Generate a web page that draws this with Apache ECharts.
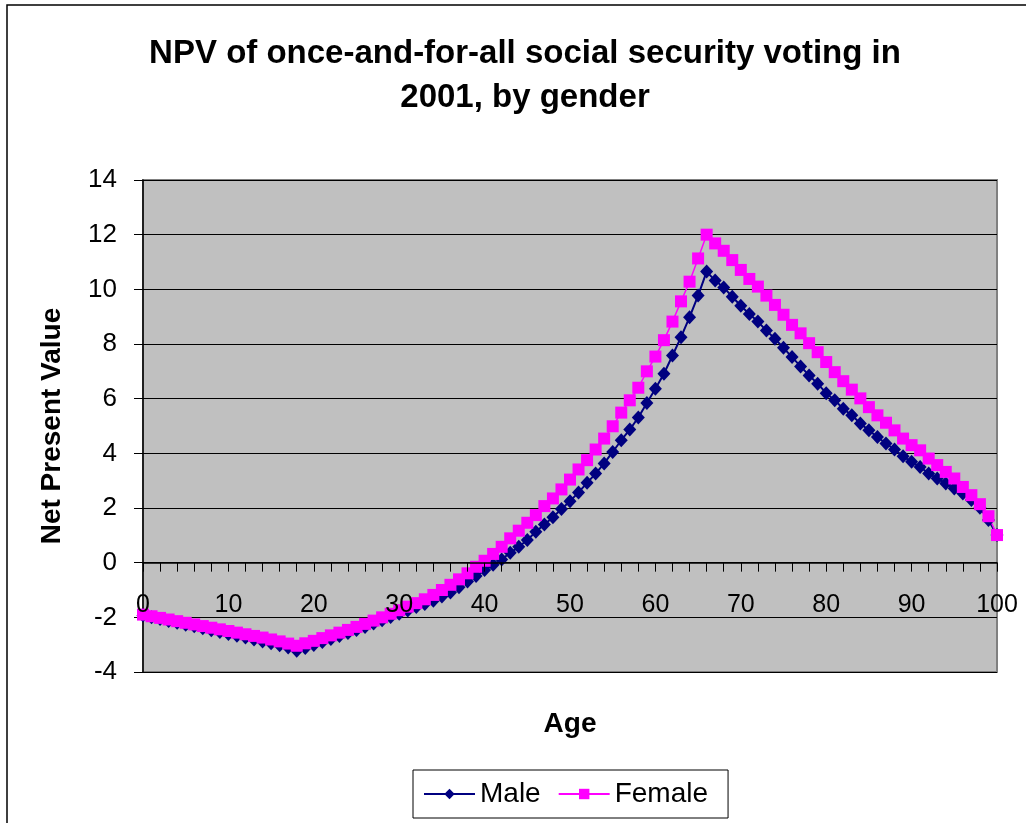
<!DOCTYPE html>
<html>
<head>
<meta charset="utf-8">
<script src="https://cdn.jsdelivr.net/npm/echarts@6/dist/echarts.min.js"></script>
<style>
html,body{margin:0;padding:0;background:#fff;}
#chart{width:1026px;height:823px;}
</style>
</head>
<body>
<div id="chart"></div>
<script>
var titleText = 'NPV of once-and-for-all social security voting in\n2001, by gender';
var xAxisName = 'Age';
var yAxisName = 'Net Present Value';
var ages = [];
for (var a = 0; a <= 100; a++) ages.push(String(a));
var yTicks = [-4, -2, 0, 2, 4, 6, 8, 10, 12, 14];

var male = [
 -1.93,-2.00,-2.06,-2.13,-2.20,-2.27,-2.33,-2.40,-2.47,-2.54,
 -2.61,-2.67,-2.74,-2.81,-2.88,-2.95,-3.02,-3.10,-3.22,-3.12,
 -3.01,-2.90,-2.79,-2.68,-2.57,-2.46,-2.35,-2.23,-2.11,-1.99,
 -1.87,-1.75,-1.62,-1.51,-1.39,-1.24,-1.09,-0.90,-0.69,-0.49,
 -0.27,-0.08,0.12,0.36,0.58,0.83,1.13,1.40,1.66,1.96,
 2.25,2.57,2.92,3.26,3.63,4.05,4.48,4.87,5.31,5.84,
 6.36,6.91,7.58,8.25,8.98,9.77,10.65,10.32,10.07,9.73,
 9.40,9.10,8.82,8.49,8.19,7.86,7.52,7.18,6.85,6.55,
 6.20,5.94,5.63,5.39,5.09,4.84,4.60,4.36,4.14,3.89,
 3.69,3.50,3.26,3.08,2.90,2.71,2.53,2.29,2.01,1.56,
 1.01
];
var female = [
 -1.90,-1.96,-2.02,-2.08,-2.14,-2.20,-2.26,-2.32,-2.38,-2.44,
 -2.50,-2.56,-2.62,-2.68,-2.74,-2.81,-2.88,-2.96,-3.04,-2.95,
 -2.86,-2.76,-2.66,-2.56,-2.46,-2.35,-2.24,-2.12,-2.00,-1.87,
 -1.74,-1.61,-1.48,-1.34,-1.18,-1.00,-0.81,-0.61,-0.39,-0.15,
 0.07,0.32,0.58,0.89,1.17,1.46,1.74,2.07,2.35,2.68,
 3.04,3.41,3.75,4.14,4.54,4.99,5.49,5.94,6.40,7.00,
 7.54,8.14,8.82,9.56,10.28,11.13,12.00,11.68,11.41,11.07,
 10.71,10.38,10.10,9.77,9.43,9.07,8.70,8.39,8.03,7.70,
 7.34,6.97,6.64,6.33,6.01,5.69,5.39,5.12,4.84,4.54,
 4.30,4.11,3.81,3.57,3.32,3.08,2.77,2.47,2.14,1.70,
 1.01
];

var FONT = '"Liberation Sans", Arial, sans-serif';
var GRID_TOP = 180, GRID_BOTTOM = 151, H = 823;
var plotH = H - GRID_TOP - GRID_BOTTOM;
var yMin = yTicks[0], yMax = yTicks[yTicks.length - 1];
// shift the x axis up so it crosses the value axis at zero (like Excel)
var xAxisOffset = -plotH * (0 - yMin) / (yMax - yMin);

var chart = echarts.init(document.getElementById('chart'), null, {renderer: 'canvas'});
chart.setOption({
  backgroundColor: '#ffffff',
  animation: false,
  textStyle: {fontFamily: FONT, color: '#000'},
  graphic: [{
    type: 'rect', z: -10, silent: true,
    shape: {x: 7, y: 5, width: 1060, height: 860},
    style: {fill: 'none', stroke: '#000', lineWidth: 1.5}
  }],
  title: {
    text: titleText,
    left: 525, top: 32, textAlign: 'center', padding: 0,
    textStyle: {fontFamily: FONT, fontSize: 33, fontWeight: 'bold', color: '#000', lineHeight: 44}
  },
  legend: {
    left: 413, top: 770,
    padding: [10, 20, 10, 10],
    itemWidth: 51, itemHeight: 13, itemGap: 17,
    borderColor: '#000', borderWidth: 1, backgroundColor: '#fff',
    textStyle: {fontFamily: FONT, fontSize: 28, color: '#000'},
    data: ['Male', 'Female']
  },
  grid: {
    left: 143, right: 29, top: GRID_TOP, bottom: GRID_BOTTOM,
    containLabel: false, outerBoundsMode: 'none',
    show: true, backgroundColor: '#c0c0c0', borderColor: '#808080', borderWidth: 2
  },
  xAxis: {
    type: 'category', data: ages, boundaryGap: false,
    position: 'bottom', offset: xAxisOffset, z: 5,
    name: xAxisName, nameLocation: 'middle', nameGap: 148,
    nameTextStyle: {fontFamily: FONT, fontSize: 28, fontWeight: 'bold', color: '#000'},
    axisLine: {onZero: false, lineStyle: {color: '#000', width: 1.5}},
    axisTick: {show: true, interval: 1, inside: false, length: 9, lineStyle: {color: '#000'}},
    axisLabel: {interval: 9, margin: 30, fontFamily: FONT, fontSize: 25, color: '#000'},
    splitLine: {show: false}
  },
  yAxis: {
    type: 'value', min: yMin, max: yMax, interval: 2,
    name: yAxisName, nameLocation: 'middle', nameGap: 77, nameRotate: 90,
    nameTextStyle: {fontFamily: FONT, fontSize: 28, fontWeight: 'bold', color: '#000'},
    axisLine: {show: true, onZero: false, lineStyle: {color: '#000', width: 1.5}},
    axisTick: {show: true, inside: false, length: 9, lineStyle: {color: '#000'}},
    axisLabel: {margin: 26, fontFamily: FONT, fontSize: 26, color: '#000'},
    splitLine: {show: true, lineStyle: {color: '#000', width: 1}}
  },
  series: [
    {
      name: 'Male', type: 'line', data: male,
      symbol: 'diamond', symbolSize: [13, 14], showAllSymbol: true,
      itemStyle: {color: '#000080'},
      lineStyle: {color: '#000080', width: 2}
    },
    {
      name: 'Female', type: 'line', data: female,
      symbol: 'rect', symbolSize: 12, showAllSymbol: true,
      itemStyle: {color: '#ff00ff'},
      lineStyle: {color: '#ff00ff', width: 1.5}
    }
  ]
});
</script>
</body>
</html>
